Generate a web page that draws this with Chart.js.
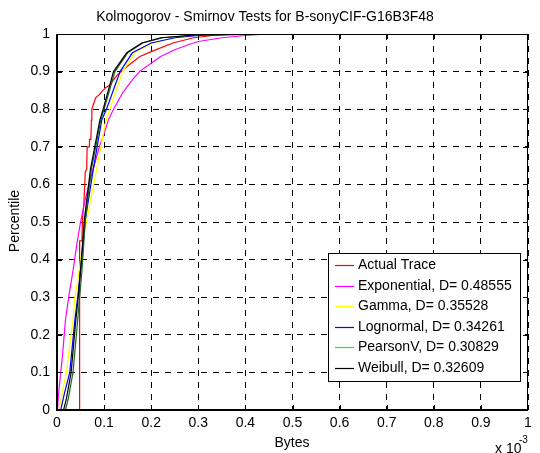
<!DOCTYPE html>
<html>
<head>
<meta charset="utf-8">
<script src="https://cdn.jsdelivr.net/npm/chart.js@4.4.1/dist/chart.umd.min.js"></script>
<style>
  html, body { margin: 0; padding: 0; background: #fff; }
  #wrap { width: 540px; height: 453px; }
</style>
</head>
<body>
<div id="wrap"><canvas id="ks" width="540" height="453"></canvas></div>
<script>
// axis ticks (x in units of 1e-3 bytes)
const xTicks = [0, 0.1, 0.2, 0.3, 0.4, 0.5, 0.6, 0.7, 0.8, 0.9, 1];
const xTickLabels = ['0', '0.1', '0.2', '0.3', '0.4', '0.5', '0.6', '0.7', '0.8', '0.9', '1'];
const yTicks = [0, 0.1, 0.2, 0.3, 0.4, 0.5, 0.6, 0.7, 0.8, 0.9, 1];
const yTickLabels = ['0', '0.1', '0.2', '0.3', '0.4', '0.5', '0.6', '0.7', '0.8', '0.9', '1'];

const seriesNames = ['Actual Trace', 'Exponential, D= 0.48555', 'Gamma, D= 0.35528',
  'Lognormal, D= 0.34261', 'PearsonV, D= 0.30829', 'Weibull, D= 0.32609'];

// values
const actualX = [0.048, 0.048, 0.053, 0.054, 0.057, 0.059, 0.060, 0.063, 0.064, 0.068, 0.069, 0.072, 0.073, 0.074, 0.078, 0.082, 0.091, 0.095, 0.104, 0.112, 0.127, 0.148, 0.176, 0.204, 0.246, 0.29, 0.33, 0.38, 0.5];
const actualY = [0, 0.45, 0.45, 0.505, 0.55, 0.6, 0.634, 0.64, 0.7, 0.7, 0.72, 0.72, 0.771, 0.8, 0.815, 0.83, 0.84, 0.847, 0.858, 0.864, 0.89, 0.913, 0.94, 0.955, 0.976, 0.99, 0.996, 1, 1];

const expX = [0.001, 0.003, 0.008, 0.012, 0.018, 0.026, 0.034, 0.042, 0.05, 0.06, 0.07, 0.08, 0.09, 0.1, 0.109, 0.12, 0.14, 0.16, 0.175, 0.2, 0.22, 0.25, 0.28, 0.3, 0.35, 0.4, 0.45, 0.82];
const expY = [0, 0.04, 0.1, 0.15, 0.24, 0.31, 0.37, 0.44, 0.5, 0.56, 0.61, 0.655, 0.7, 0.735, 0.771, 0.8, 0.845, 0.878, 0.9, 0.922, 0.94, 0.958, 0.972, 0.98, 0.99, 0.996, 1, 1];

const gammaX = [0.004, 0.01, 0.02, 0.034, 0.038, 0.045, 0.053, 0.063, 0.084, 0.104, 0.112, 0.139, 0.165, 0.2, 0.25, 0.3, 0.35];
const gammaY = [0, 0.04, 0.1, 0.24, 0.3, 0.35, 0.43, 0.505, 0.64, 0.771, 0.8, 0.9, 0.95, 0.975, 0.99, 0.998, 1];

const lognX = [0.008, 0.015, 0.027, 0.038, 0.044, 0.05, 0.06, 0.077, 0.095, 0.105, 0.134, 0.16, 0.2, 0.25, 0.3, 0.4, 0.77];
const lognY = [0, 0.04, 0.1, 0.24, 0.3, 0.37, 0.505, 0.64, 0.771, 0.8, 0.9, 0.95, 0.976, 0.99, 0.996, 0.999, 1];

const pearsonX = [0.018, 0.024, 0.034, 0.044, 0.048, 0.053, 0.06, 0.073, 0.093, 0.1, 0.123, 0.15, 0.182, 0.225, 0.3, 0.4, 1];
const pearsonY = [0, 0.03, 0.1, 0.24, 0.3, 0.37, 0.505, 0.64, 0.771, 0.8, 0.9, 0.95, 0.976, 0.99, 0.998, 1, 1];

const weibullX = [0.014, 0.02, 0.03, 0.04, 0.045, 0.05, 0.058, 0.071, 0.091, 0.098, 0.12, 0.148, 0.18, 0.22, 0.3, 0.4];
const weibullY = [0, 0.03, 0.1, 0.24, 0.3, 0.37, 0.505, 0.64, 0.771, 0.8, 0.9, 0.95, 0.976, 0.99, 0.998, 1];

const lineColors = ['#ff0000', '#ff00ff', '#ffff00', '#0000ff', '#226622', '#000000'];
const legendColors = ['#ff0000', '#ff00ff', '#ffff00', '#0000ff', '#00ff00', '#000000'];

const FONT = '"Liberation Sans", Arial, sans-serif';

function pts(xs, ys) {
  return xs.map((x, i) => ({ x: x, y: ys[i] }));
}

const allX = [actualX, expX, gammaX, lognX, pearsonX, weibullX];
const allY = [actualY, expY, gammaY, lognY, pearsonY, weibullY];

const datasets = seriesNames.map((name, i) => ({
  label: name,
  data: pts(allX[i], allY[i]),
  showLine: true,
  borderColor: lineColors[i],
  backgroundColor: lineColors[i],
  borderWidth: 1.2,
  pointRadius: 0,
  tension: 0,
  order: seriesNames.length - i
}));

// frame, inner ticks, legend box and the texts around the axes
const decor = {
  id: 'decor',
  afterDatasetsDraw(chart) {
    const { ctx, chartArea: a, scales: { x, y } } = chart;
    ctx.save();
    ctx.strokeStyle = '#000';
    ctx.lineWidth = 1;
    ctx.beginPath();
    xTicks.forEach(v => {
      const px = Math.round(x.getPixelForValue(v)) + 0.5;
      ctx.moveTo(px, a.bottom); ctx.lineTo(px, a.bottom - 5);
      ctx.moveTo(px, a.top); ctx.lineTo(px, a.top + 5);
    });
    yTicks.forEach(v => {
      const py = Math.round(y.getPixelForValue(v)) + 0.5;
      ctx.moveTo(a.left, py); ctx.lineTo(a.left + 5, py);
      ctx.moveTo(a.right, py); ctx.lineTo(a.right - 5, py);
    });
    ctx.stroke();

    // box
    ctx.strokeRect(a.left + 0.5, a.top + 0.5, a.right - a.left - 1, a.bottom - a.top);
    ctx.fillStyle = '#000';
    ctx.fillRect(a.left - 1, a.top, 2, a.bottom - a.top + 1);
    ctx.fillRect(a.left - 1, a.bottom - 1, a.right - a.left + 1, 2);

    // legend
    const lx = 328, ly = 253, lw = 192, lh = 128;
    ctx.fillStyle = '#fff';
    ctx.fillRect(lx, ly, lw, lh);
    ctx.strokeStyle = '#000';
    ctx.strokeRect(lx + 0.5, ly + 0.5, lw, lh);
    ctx.font = '14px ' + FONT;
    ctx.textBaseline = 'middle';
    ctx.textAlign = 'left';
    seriesNames.forEach((name, i) => {
      const ry = Math.round(265 + i * 20.6) + 0.5;
      ctx.strokeStyle = legendColors[i];
      ctx.lineWidth = 1.2;
      ctx.beginPath();
      ctx.moveTo(335, ry); ctx.lineTo(354, ry);
      ctx.stroke();
      ctx.fillStyle = '#000';
      ctx.fillText(name, 358, ry);
    });

    // texts
    ctx.fillStyle = '#000';
    ctx.textAlign = 'center';
    ctx.font = '14px ' + FONT;
    ctx.fillText('Kolmogorov - Smirnov Tests for B-sonyCIF-G16B3F48', 265, 17);
    ctx.fillText('Bytes', 292, 443);
    ctx.save();
    ctx.translate(15, 221);
    ctx.rotate(-Math.PI / 2);
    ctx.fillText('Percentile', 0, 0);
    ctx.restore();
    ctx.textAlign = 'left';
    ctx.fillText('x 10', 495, 449);
    ctx.font = '10px ' + FONT;
    ctx.fillText('-3', 519, 440);
    ctx.restore();
  }
};

new Chart(document.getElementById('ks'), {
  type: 'scatter',
  data: { datasets: datasets },
  options: {
    responsive: false,
    animation: false,
    devicePixelRatio: 1,
    layout: { padding: { left: 0, top: 34, right: 12, bottom: 0 } },
    plugins: {
      legend: { display: false },
      title: { display: false },
      tooltip: { enabled: false }
    },
    scales: {
      x: {
        type: 'linear',
        min: 0,
        max: 1,
        afterBuildTicks: s => { s.ticks = xTicks.map(v => ({ value: v })); },
        afterFit: s => { s.height = 43; },
        ticks: {
          callback: (v, i) => xTickLabels[i],
          color: '#000',
          font: { family: FONT, size: 14 },
          padding: 5,
          maxRotation: 0,
          autoSkip: false
        },
        grid: { color: '#000', lineWidth: 1, drawTicks: false },
        border: { display: false, dash: [6, 6] }
      },
      y: {
        type: 'linear',
        min: 0,
        max: 1,
        afterBuildTicks: s => { s.ticks = yTicks.map(v => ({ value: v })); },
        afterFit: s => { s.width = 57; },
        ticks: {
          callback: (v, i) => yTickLabels[i],
          color: '#000',
          font: { family: FONT, size: 14 },
          padding: 7,
          autoSkip: false
        },
        grid: { color: '#000', lineWidth: 1, drawTicks: false },
        border: { display: false, dash: [6, 6] }
      }
    }
  },
  plugins: [decor]
});
</script>
</body>
</html>
